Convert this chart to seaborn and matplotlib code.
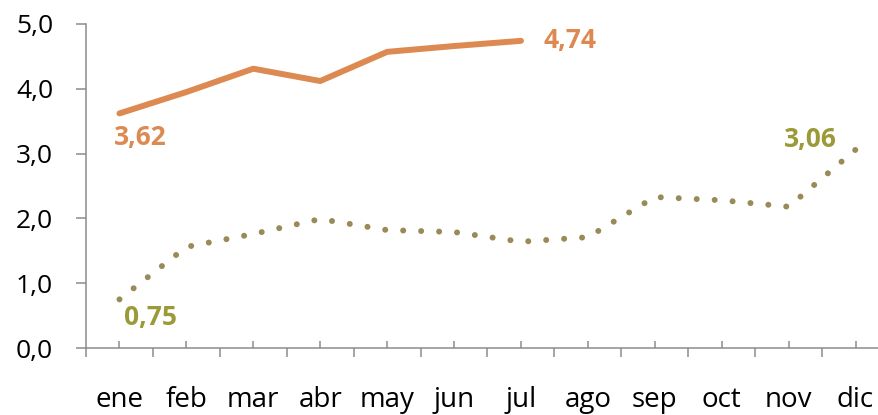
import numpy as np
import matplotlib
matplotlib.use("Agg")
import matplotlib.pyplot as plt
import seaborn as sns

months = ["ene", "feb", "mar", "abr", "may", "jun", "jul", "ago", "sep", "oct", "nov", "dic"]
serie_2024 = [3.62, 3.95, 4.31, 4.12, 4.57, 4.66, 4.74]
serie_2023 = [0.75, 1.56, 1.76, 1.99, 1.82, 1.79, 1.64, 1.71, 2.33, 2.28, 2.18, 3.06]
y_ticks = [0, 1, 2, 3, 4, 5]
y_tick_labels = ["0,0", "1,0", "2,0", "3,0", "4,0", "5,0"]

ORANGE = "#DD8A52"
OLIVE_LINE = "#9A8A58"
OLIVE_TEXT = "#9C9A38"
GRAY = "#8C8C8C"

sns.set_style("white")
plt.rcParams["font.family"] = ["Open Sans", "DejaVu Sans"]

fig = plt.figure(figsize=(8.79, 4.15), dpi=100)
ax = fig.add_axes([86 / 879, (415 - 348) / 415, 803 / 879, 324 / 415])

x1 = np.arange(len(serie_2024))
x2 = np.arange(len(serie_2023))
sns.lineplot(x=x1, y=serie_2024, ax=ax, color=ORANGE, linewidth=4.3)
ax.lines[-1].set_solid_capstyle("round")
sns.lineplot(x=x2, y=serie_2023, ax=ax, color=OLIVE_LINE, linewidth=4.3)
ln = ax.lines[-1]
ln.set_linestyle((0, (0.01, 3.0)))
ln.set_dash_capstyle("round")

ax.set_xlim(-0.5, 11.5)
ax.set_ylim(0, 5)

ax.set_xticks(np.arange(len(months)))
ax.set_xticklabels(months)
ax.set_xticks(np.arange(-0.5, len(months), 1.0), minor=True)
ax.set_yticks(y_ticks)
ax.set_yticklabels(y_tick_labels)

ax.tick_params(axis="x", which="major", direction="in", length=5, width=1.1,
               color=GRAY, pad=27, labelsize=20, labelcolor="black")
ax.tick_params(axis="x", which="minor", direction="out", length=6.5, width=1.1,
               color=GRAY)
ax.tick_params(axis="y", which="major", direction="out", length=7.2, width=1.1,
               color=GRAY, pad=16.5, labelsize=19, labelcolor="black")
ax.tick_params(left=True, bottom=True)
ax.tick_params(axis="x", which="minor", bottom=True)

for side in ["top", "right"]:
    ax.spines[side].set_visible(False)
for side in ["left", "bottom"]:
    ax.spines[side].set_color(GRAY)
    ax.spines[side].set_linewidth(1.1)
ax.grid(False)

def lab(xi, yi, txt, dx, dy, color, ha="center"):
    ax.annotate(txt, xy=(xi, yi), xytext=(dx * 0.72, dy * 0.72),
                textcoords="offset points", ha=ha, va="center",
                fontsize=19, fontweight="bold", color=color)

lab(x1[0], serie_2024[0], "3,62", 21, -24, ORANGE)
lab(x1[-1], serie_2024[-1], "4,74", 23, 0, ORANGE, ha="left")
lab(x2[0], serie_2023[0], "0,75", 31, -18, OLIVE_TEXT)
lab(x2[-1], serie_2023[-1], "3,06", -45, 10, OLIVE_TEXT)

fig.savefig("out.png", dpi=100)
